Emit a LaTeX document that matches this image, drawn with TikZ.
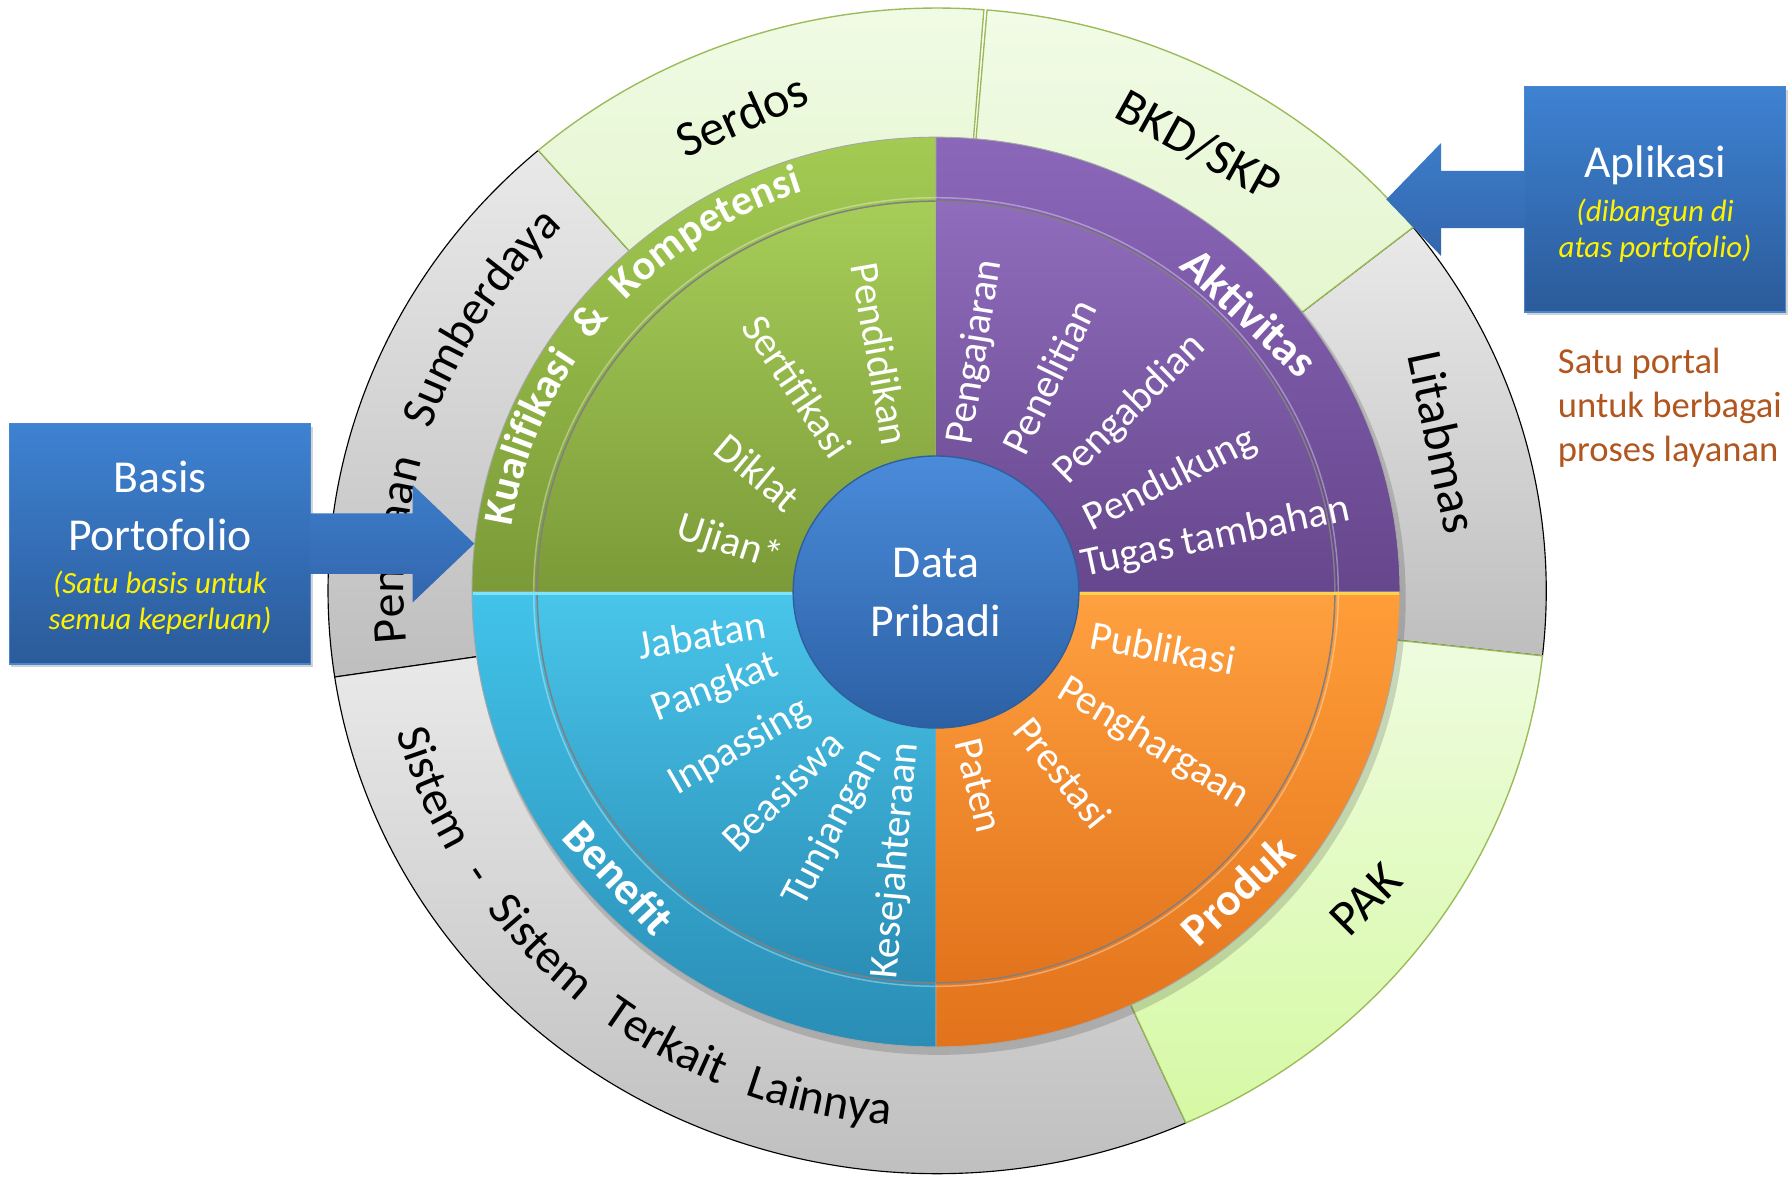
\documentclass[tikz,border=0pt]{standalone}
\usepackage{fontspec}
\setmainfont{Carlito}
\usetikzlibrary{calc,decorations.text,shadows}
\definecolor{gtop}{HTML}{E9E9E9}
\definecolor{gbot}{HTML}{BEBEBE}
\definecolor{lgtop}{HTML}{F1FBE6}
\definecolor{lgbot}{HTML}{E4F6CE}
\definecolor{paktop}{HTML}{EEFCDF}
\definecolor{pakbot}{HTML}{D6F9A4}
\definecolor{lgline}{HTML}{9BBB59}
\definecolor{grtop}{HTML}{A3CB52}
\definecolor{grbot}{HTML}{7B9A38}
\definecolor{putop}{HTML}{8B67BA}
\definecolor{pubot}{HTML}{66468C}
\definecolor{bltop}{HTML}{42C3EA}
\definecolor{blbot}{HTML}{2A8DB5}
\definecolor{ortop}{HTML}{FF9D38}
\definecolor{orbot}{HTML}{E2731C}
\definecolor{dptop}{HTML}{4A8BDA}
\definecolor{dpbot}{HTML}{2C60A4}
\definecolor{dpline}{HTML}{2E5E9E}
\definecolor{boxtop}{HTML}{3E82D2}
\definecolor{boxbot}{HTML}{2B5B9A}
\definecolor{boxline}{HTML}{4A86D0}
\definecolor{arrtop}{HTML}{3C7CC9}
\definecolor{arrbot}{HTML}{3366AD}
\definecolor{portalbrown}{HTML}{B0561E}
\definecolor{hlyellow}{HTML}{FFD34E}
\definecolor{hlcyan}{HTML}{7EE3FF}

\newcommand\ringseg[3]{%
  \path[#3] ($(R)+(#1:533 and 510)$) arc[start angle=#1,end angle=#2,x radius=533,y radius=510]
    -- ($(R)+(#2:390 and 373)$) arc[start angle=#2,end angle=#1,x radius=390,y radius=373] -- cycle;}
\newcommand\diskq[4]{%
  \path[top color=#3,bottom color=#4,draw=black!35,line width=0.8] (D) -- ($(D)+(#1:406 and 398)$)
    arc[start angle=#1,end angle=#2,x radius=406,y radius=398] -- cycle;
  \path[top color=#3!96!white,bottom color=#4] (D) -- ($(D)+(#1:349 and 342)$)
    arc[start angle=#1,end angle=#2,x radius=349,y radius=342] -- cycle;
  \draw[black!50,line width=1.3] ($(D)+(#1:349 and 342)$) arc[start angle=#1,end angle=#2,x radius=349,y radius=342];
  \draw[white,opacity=0.35,line width=1.3] ($(D)+(#1:352 and 345)$) arc[start angle=#1,end angle=#2,x radius=352,y radius=345];}

\begin{document}
\begin{tikzpicture}[x=1pt,y=1pt,
  item/.style={text=white,font=\fontsize{36}{43}\selectfont,inner sep=0pt},
  cat/.style={text=white,font=\fontsize{40}{48}\selectfont\bfseries,inner sep=0pt},
  outer/.style={text=black,font=\fontsize{44}{52}\selectfont,inner sep=0pt},
  bluebox/.style={draw=boxline,line width=1,top color=boxtop,bottom color=boxbot,
    drop shadow={shadow xshift=2pt,shadow yshift=-3pt,opacity=0.35},inner sep=0pt},
  arrowfill/.style={top color=arrtop,bottom color=arrbot},
  boxtitle/.style={text=white,font=\fontsize{40}{48}\selectfont,inner sep=0pt,anchor=base},
  boxnote/.style={text=yellow,font=\fontsize{27}{33}\selectfont\itshape,inner sep=0pt,anchor=base},
  portal/.style={text=portalbrown,font=\fontsize{32}{39}\selectfont,inner sep=0pt,anchor=base west}]
\useasboundingbox (0,0) rectangle (1568,-1029);
\coordinate (R) at (820,-517);
\coordinate (D) at (819,-518);

% outer ring
\ringseg{-6.4}{38.6}{top color=gtop,bottom color=gbot,draw=black,line width=1}
\ringseg{130.9}{188.5}{top color=gtop,bottom color=gbot,draw=black,line width=1}
\ringseg{188.5}{294.1}{top color=gtop,bottom color=gbot,draw=black,line width=1}
\ringseg{85.6}{130.9}{top color=lgtop,bottom color=lgbot,draw=lgline,line width=1.2}
\ringseg{38.6}{85.3}{top color=lgtop,bottom color=lgbot,draw=lgline,line width=1.2}
\ringseg{-65.9}{-6.4}{top color=paktop,bottom color=pakbot,draw=lgline,line width=1.2}

\node[outer,rotate=24] (serdos) at (649,-100.5) {Serdos};
\node[outer,rotate=-29] (bkd) at (1048.8,-127.3) {BKD/SKP};
\node[outer,rotate=-78] (litabmas) at (1262.8,-386.8) {Litabmas};
\node[outer,rotate=45] (pak) at (1195,-787) {PAK};
\path[decorate,decoration={text along path,
  text={|\fontsize{42}{50}\selectfont\color{black}|Sistem - Sistem Terkait Lainnya},
  text align={fit to path stretching spaces}}]
  ($(R)+(195.3:490 and 469)$) arc[start angle=195.3,end angle=265.2,x radius=490,y radius=469];
\path[decorate,decoration={text along path,
  text={|\fontsize{42}{50}\selectfont\color{black}|Penataan Sumberdaya},
  text align={fit to path stretching spaces}}]
  ($(R)+(185.8:467 and 447)$) arc[start angle=185.8,end angle=134.5,x radius=467,y radius=447];

% disk
\fill[black,opacity=0.15] ($(D)+(3,-5)$) ellipse[x radius=408,y radius=400];
\diskq{90}{180}{grtop}{grbot}
\diskq{0}{90}{putop}{pubot}
\diskq{180}{270}{bltop}{blbot}
\diskq{270}{360}{ortop}{orbot}
\draw[hlyellow,line width=3] ($(D)+(0,-1.5)$) -- ($(D)+(405,-1.5)$);
\draw[hlcyan,line width=3] ($(D)+(-405,-1.5)$) -- ($(D)+(0,-1.5)$);

% centre
\path[top color=dptop,bottom color=dpbot,draw=dpline,line width=1.2] (D) ellipse[x radius=125,y radius=119];
\node[boxtitle] (dp1) at (819,-505.7) {Data};
\node[boxtitle] (dp2) at (819,-557) {Pribadi};

% green quadrant
\path[decorate,decoration={text along path,
  text={|\fontsize{37}{44}\selectfont\bfseries\color{white}|Kualifikasi {\&} Kompetensi},
  text align={fit to path stretching spaces}}]
  ($(D)+(171:376 and 368.5)$) arc[start angle=171,end angle=108,x radius=376,y radius=368.5];
\node[item,rotate=-80] (q1) at (770.3,-309.8) {Pendidikan};
\node[item,rotate=-56] (q2) at (698,-338) {Sertifikasi};
\node[item,rotate=-40] (q3) at (663,-413.5) {Diklat};
\node[item,rotate=-18] (q4) at (638.3,-475.5) {Ujian*};

% purple quadrant
\node[cat,rotate=-43] (a0) at (1093.6,-273) {Aktivitas};
\node[item,rotate=81] (a1) at (853.7,-308) {Pengajaran};
\node[item,rotate=64] (a2) at (918,-329.8) {Penelitian};
\node[item,rotate=44.5] (a3) at (989,-358) {Pengabdian};
\node[item,rotate=26.6] (a4) at (1024,-420) {Pendukung};
\node[item,rotate=12] (a5) at (1063.7,-470.5) {Tugas tambahan};

% blue quadrant
\node[cat,rotate=-47] (b0) at (541.8,-767.7) {Benefit};
\node[item,rotate=10] (b1) at (614,-555.5) {Jabatan};
\node[item,rotate=21] (b2) at (625.8,-602.2) {Pangkat};
\node[item,rotate=30] (b3) at (647.2,-653.6) {Inpassing};
\node[item,rotate=45] (b4) at (684.4,-692) {Beasiswa};
\node[item,rotate=62.5] (b5) at (729.3,-724.3) {Tunjangan};
\node[item,rotate=85] (b6) at (784,-753.2) {Kesejahteraan};

% orange quadrant
\node[cat,rotate=43] (p0) at (1082.8,-778.9) {Produk};
\node[item,rotate=-10.6] (p1) at (1017.5,-566.8) {Publikasi};
\node[item,rotate=-31.3] (p2) at (1009.1,-650.4) {Penghargaan};
\node[item,rotate=-51] (p3) at (930,-676) {Prestasi};
\node[item,rotate=-76] (p4) at (856.3,-687.3) {Paten};

% left box and arrow
\node[bluebox,minimum width=264pt,minimum height=210.6pt] (boxL) at (140,-475.7) {};
\coordinate (tipL) at (415,-475.7);
\path[arrowfill] ($(boxL.east)+(-1,26.5)$) -- ($(tipL)+(-54,26.5)$) -- ($(tipL)+(-54,51.5)$) -- (tipL)
  -- ($(tipL)+(-54,-51.5)$) -- ($(tipL)+(-54,-26.5)$) -- ($(boxL.east)+(-1,-26.5)$) -- cycle;
\node[boxtitle] (bl1) at (140,-431) {Basis};
\node[boxtitle] (bl2) at (140,-482) {Portofolio};
\node[boxnote] (bl3) at (140,-519) {(Satu basis untuk};
\node[boxnote] (bl4) at (140,-551) {semua keperluan)};

% right box and arrow
\node[bluebox,minimum width=228.5pt,minimum height=197pt] (boxR) at (1448.25,-174.5) {};
\coordinate (tipR) at (1213,-174.5);
\path[arrowfill] ($(boxR.west)+(1,25)$) -- ($(tipR)+(48,25)$) -- ($(tipR)+(48,49.5)$) -- (tipR)
  -- ($(tipR)+(48,-49.5)$) -- ($(tipR)+(48,-25)$) -- ($(boxR.west)+(1,-25)$) -- cycle;
\node[boxtitle] (br1) at (1448.25,-155.7) {Aplikasi};
\node[boxnote] (br2) at (1448.25,-193.5) {(dibangun di};
\node[boxnote] (br3) at (1448.25,-225) {atas portofolio)};

% portal note
\node[portal] (n1) at (1363,-326.5) {Satu portal};
\node[portal] (n2) at (1363,-365) {untuk berbagai};
\node[portal] (n3) at (1363,-403.5) {proses layanan};
\end{tikzpicture}
\end{document}
